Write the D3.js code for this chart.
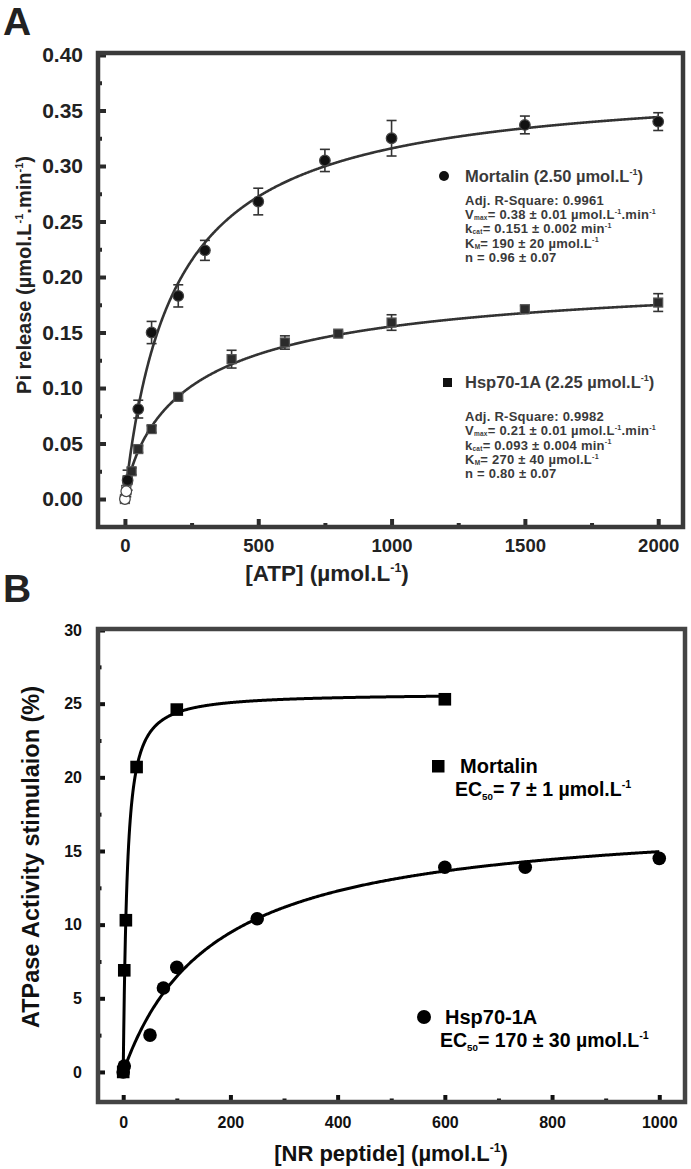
<!DOCTYPE html>
<html><head><meta charset="utf-8">
<script src="https://cdn.jsdelivr.net/npm/d3@7"></script>
<style>
body{margin:0;background:#fff}
svg{display:block}
text{font-family:"Liberation Sans",Arial,Helvetica,sans-serif;font-weight:bold}
</style>
</head><body>
<svg id="chart" width="691" height="1169"></svg>
<script>
// ---------- Panel A data ----------
const atpMortalin = [0, 5, 10, 50, 100, 200, 300, 500, 750, 1000, 1500, 2000];
const piMortalin  = [0.000, 0.007, 0.017, 0.081, 0.150, 0.183, 0.224, 0.268, 0.305, 0.325, 0.337, 0.340];
const errMortalin = [0.003, 0.005, 0.009, 0.008, 0.010, 0.010, 0.009, 0.012, 0.010, 0.016, 0.008, 0.008];
const atpHsp = [0, 5, 10, 25, 50, 100, 200, 400, 600, 800, 1000, 1500, 2000];
const piHsp  = [0.000, 0.008, 0.017, 0.025, 0.045, 0.063, 0.092, 0.126, 0.141, 0.149, 0.159, 0.171, 0.177];
const errHsp = [0.003, 0.004, 0.003, 0.003, 0.003, 0.003, 0.003, 0.008, 0.006, 0.002, 0.007, 0.003, 0.008];
// Hill fit parameters shown in panel A (Vmax, K, n)
const fitMortalinA = [0.38, 190, 0.96];
const fitHspA = [0.21, 270, 0.80];
const yTicksA = [0, 0.05, 0.10, 0.15, 0.20, 0.25, 0.30, 0.35, 0.40];
const yMinorA = [0.025, 0.075, 0.125, 0.175, 0.225, 0.275, 0.325, 0.375];
const xTicksA = [0, 500, 1000, 1500, 2000];
const xMinorA = [250, 750, 1250, 1750];

// ---------- Panel B data ----------
const pepMortalin = [0, 2, 5, 25, 100, 600];
const stimMortalin = [0, 6.9, 10.3, 20.7, 24.6, 25.3];
const pepHsp = [0, 2, 50, 75, 100, 250, 600, 750, 1000];
const stimHsp = [0, 0.4, 2.5, 5.7, 7.1, 10.4, 13.9, 13.9, 14.5];
// fit parameters for panel B curves (Vmax, EC50, n)
const fitMortalinB = [25.7, 7, 1.1];
const fitHspB = [17.5, 170, 1.0];
const yTicksB = [0, 5, 10, 15, 20, 25, 30];
const yMinorB = [2.5, 7.5, 12.5, 17.5, 22.5, 27.5];
const xTicksB = [0, 200, 400, 600, 800, 1000];
const xMinorB = [100, 300, 500, 700, 900];

// legend statistics text lines
const statsMortalinA = [
  ["Adj. R-Square: 0.9961"],
  ["V", {sub: "max"}, "= 0.38 ± 0.01 µmol.L", {sup: "-1"}, ".min", {sup: "-1"}],
  ["k", {sub: "cat"}, "= 0.151 ± 0.002 min", {sup: "-1"}],
  ["K", {sub: "M"}, "= 190 ± 20 µmol.L", {sup: "-1"}],
  ["n = 0.96 ± 0.07"]
];
const statsHspA = [
  ["Adj. R-Square: 0.9982"],
  ["V", {sub: "max"}, "= 0.21 ± 0.01 µmol.L", {sup: "-1"}, ".min", {sup: "-1"}],
  ["k", {sub: "cat"}, "= 0.093 ± 0.004 min", {sup: "-1"}],
  ["K", {sub: "M"}, "= 270 ± 40 µmol.L", {sup: "-1"}],
  ["n = 0.80 ± 0.07"]
];

const hill = (p) => (x) => x <= 0 ? 0 : p[0] * Math.pow(x, p[2]) / (Math.pow(p[1], p[2]) + Math.pow(x, p[2]));

const svg = d3.select("#chart");

// rich multi-line text: lines = array of parts arrays
function richLines(g, x, y, lines, size, color, lh, extra, subShift) {
  const t = g.append("text").attr("x", x).attr("y", y)
    .style("font-size", size + "px").attr("fill", color);
  if (extra) extra(t);
  const sb = subShift === undefined ? 0.18 : subShift;
  let shift = 0;
  lines.forEach((parts, li) => {
    parts.forEach((p, pi) => {
      const s = t.append("tspan");
      let target = 0, fs = size;
      if (typeof p === "string") { s.text(p); }
      else if (p.sup) { s.text(p.sup); target = -0.40 * size; fs = size * 0.55; }
      else if (p.sub) { s.text(p.sub); target = sb * size; fs = size * 0.5; }
      let dy = target - shift;
      if (pi === 0 && li > 0) { dy += lh; s.attr("x", x); }
      s.attr("dy", dy).style("font-size", fs + "px");
      shift = target;
    });
  });
  return t;
}
const rich = (g, x, y, parts, size, color, extra) => richLines(g, x, y, [parts], size, color, 0, extra);

function panel(opts) {
  const g = svg.append("g");
  const x = d3.scaleLinear().domain(opts.xd).range([opts.L, opts.R]);
  const y = d3.scaleLinear().domain(opts.yd).range([opts.B, opts.T]);
  const yAx = g.append("g").attr("transform", `translate(${opts.L},0)`)
    .call(d3.axisLeft(y).tickValues(opts.yTicks).tickSize(-opts.major).tickPadding(opts.yPad).tickFormat(opts.yFmt));
  const yMin = g.append("g").attr("transform", `translate(${opts.L},0)`)
    .call(d3.axisLeft(y).tickValues(opts.yMinor).tickSize(-opts.minor).tickFormat(""));
  const xAx = g.append("g").attr("transform", `translate(0,${opts.B})`)
    .call(d3.axisBottom(x).tickValues(opts.xTicks).tickSize(-opts.major).tickPadding(opts.xPad).tickFormat(d3.format("d")));
  const xMin = g.append("g").attr("transform", `translate(0,${opts.B})`)
    .call(d3.axisBottom(x).tickValues(opts.xMinor).tickSize(-opts.minor).tickFormat(""));
  [yAx, yMin, xAx, xMin].forEach(a => {
    a.select(".domain").remove();
    a.selectAll("line").attr("stroke", opts.tickCol).attr("stroke-width", 4);
    a.selectAll("text").attr("fill", opts.textCol)
      .style("font-family", '"Liberation Sans",Arial,sans-serif').style("font-weight", "bold");
  });
  yAx.selectAll("text").style("font-size", opts.yFont + "px");
  xAx.selectAll("text").style("font-size", opts.xFont + "px");
  g.append("rect").attr("x", opts.L).attr("y", opts.T)
    .attr("width", opts.R - opts.L).attr("height", opts.B - opts.T)
    .attr("fill", "none").attr("stroke", opts.frameCol).attr("stroke-width", opts.frameW);
  return {g, x, y};
}

// ================= Panel A =================
const A = panel({
  L: 98, R: 683, T: 53, B: 527,
  xd: [-101, 2093], yd: [-0.0252, 0.4018],
  yTicks: yTicksA, yMinor: yMinorA, xTicks: xTicksA, xMinor: xMinorA,
  major: 8, minor: 4, yPad: 15, xPad: 12,
  yFmt: d3.format(".2f"), yFont: 21, xFont: 18.5,
  tickCol: "#2a2a2a", textCol: "#222", frameCol: "#3a3a3a", frameW: 4.5
});

const lineA = d3.line().x(d => A.x(d[0])).y(d => A.y(d[1]));
const xsA = d3.range(0, 2000.01, 2);
const fM = hill(fitMortalinA), fH = hill(fitHspA);
A.g.append("path").attr("d", lineA(xsA.map(v => [v, fM(v)])))
  .attr("fill", "none").attr("stroke", "#333").attr("stroke-width", 2.6);
A.g.append("path").attr("d", lineA(xsA.map(v => [v, fH(v)])))
  .attr("fill", "none").attr("stroke", "#333").attr("stroke-width", 2.6);

function errBars(g, xs, ys, es, x, y, cap, col) {
  xs.forEach((xv, i) => {
    const cx = x(xv), y0 = y(ys[i] - es[i]), y1 = y(ys[i] + es[i]);
    g.append("line").attr("x1", cx).attr("x2", cx).attr("y1", y0).attr("y2", y1)
      .attr("stroke", col).attr("stroke-width", 1.6);
    [y0, y1].forEach(yy => g.append("line").attr("x1", cx - cap).attr("x2", cx + cap)
      .attr("y1", yy).attr("y2", yy).attr("stroke", col).attr("stroke-width", 1.6));
  });
}
errBars(A.g, atpHsp, piHsp, errHsp, A.x, A.y, 5, "#333");
errBars(A.g, atpMortalin, piMortalin, errMortalin, A.x, A.y, 5, "#333");

atpHsp.forEach((xv, i) => {
  A.g.append("rect").attr("x", A.x(xv) - 4.5).attr("y", A.y(piHsp[i]) - 4.5)
    .attr("width", 9).attr("height", 9).attr("fill", xv < 10 ? "#fff" : "#2b2b2b")
    .attr("stroke", "#555").attr("stroke-width", 1.2);
});
atpMortalin.forEach((xv, i) => {
  A.g.append("circle").attr("cx", A.x(xv)).attr("cy", A.y(piMortalin[i])).attr("r", 5.3)
    .attr("fill", xv < 10 ? "#fff" : "#111").attr("stroke", "#444").attr("stroke-width", 1.2);
});

// legend A
const colA = "#3a3a3a";
const ls = t => t.style("letter-spacing", "0.25px");
A.g.append("circle").attr("cx", 444).attr("cy", 176).attr("r", 5).attr("fill", "#111");
rich(A.g, 465, 182, ["Mortalin (2.50 µmol.L", {sup: "-1"}, ")"], 16.5, colA);
richLines(A.g, 465, 205, statsMortalinA, 13, colA, 14.2, ls, 0.08);

A.g.append("rect").attr("x", 443).attr("y", 378).attr("width", 9).attr("height", 9).attr("fill", "#111");
rich(A.g, 465, 388, ["Hsp70-1A (2.25 µmol.L", {sup: "-1"}, ")"], 16.5, colA);
richLines(A.g, 465, 421, statsHspA, 13, colA, 14.3, ls, 0.08);

// axis titles A
rich(svg, 0, 0, ["Pi release (µmol.L", {sup: "-1"}, ".min", {sup: "-1"}, ")"], 20, "#222",
  t => t.attr("transform", "translate(31,275) rotate(-90)").attr("text-anchor", "middle"));
rich(svg, 327, 581, ["[ATP] (µmol.L", {sup: "-1"}, ")"], 22.5, "#222",
  t => t.attr("text-anchor", "middle"));
svg.append("text").attr("x", 3).attr("y", 35).style("font-size", "39px").attr("fill", "#222").text("A");

// ================= Panel B =================
const B = panel({
  L: 98, R: 685, T: 629, B: 1102,
  xd: [-47, 1048], yd: [-2.04, 30.07],
  yTicks: yTicksB, yMinor: yMinorB, xTicks: xTicksB, xMinor: xMinorB,
  major: 7, minor: 3.5, yPad: 16, xPad: 15,
  yFmt: d3.format("d"), yFont: 16, xFont: 16,
  tickCol: "#111", textCol: "#111", frameCol: "#444", frameW: 4.5
});

const lineB = d3.line().x(d => B.x(d[0])).y(d => B.y(d[1]));
const gM = hill(fitMortalinB), gH = hill(fitHspB);
const xsBM = d3.range(0, 1, 0.02).concat(d3.range(1, 600.01, 1));
const xsBH = d3.range(0, 1000.01, 2);
B.g.append("path").attr("d", lineB(xsBM.map(v => [v, gM(v)])))
  .attr("fill", "none").attr("stroke", "#000").attr("stroke-width", 3);
B.g.append("path").attr("d", lineB(xsBH.map(v => [v, gH(v)])))
  .attr("fill", "none").attr("stroke", "#000").attr("stroke-width", 3);

pepHsp.forEach((xv, i) => {
  B.g.append("circle").attr("cx", B.x(xv)).attr("cy", B.y(stimHsp[i])).attr("r", 6.8).attr("fill", "#000");
});
pepMortalin.forEach((xv, i) => {
  B.g.append("rect").attr("x", B.x(xv) - 6.3).attr("y", B.y(stimMortalin[i]) - 6.3)
    .attr("width", 12.6).attr("height", 12.6).attr("fill", "#000");
});

// legend B
B.g.append("rect").attr("x", 432).attr("y", 760).attr("width", 12.5).attr("height", 12.5).attr("fill", "#000");
rich(B.g, 460, 773, ["Mortalin"], 20, "#000");
rich(B.g, 455, 796, ["EC", {sub: "50"}, "= 7 ± 1 µmol.L", {sup: "-1"}], 19.5, "#000");
B.g.append("circle").attr("cx", 424).attr("cy", 1017).attr("r", 7).attr("fill", "#000");
rich(B.g, 445, 1024, ["Hsp70-1A"], 20, "#000");
rich(B.g, 440, 1047, ["EC", {sub: "50"}, "= 170 ± 30 µmol.L", {sup: "-1"}], 19.5, "#000");

rich(svg, 0, 0, ["ATPase Activity stimulaion (%)"], 23.5, "#111",
  t => t.attr("transform", "translate(39,857) rotate(-90)").attr("text-anchor", "middle"));
rich(svg, 391, 1161, ["[NR peptide] (µmol.L", {sup: "-1"}, ")"], 22, "#111",
  t => t.attr("text-anchor", "middle"));
svg.append("text").attr("x", 3).attr("y", 602).style("font-size", "39px").attr("fill", "#222").text("B");
</script>
</body></html>
